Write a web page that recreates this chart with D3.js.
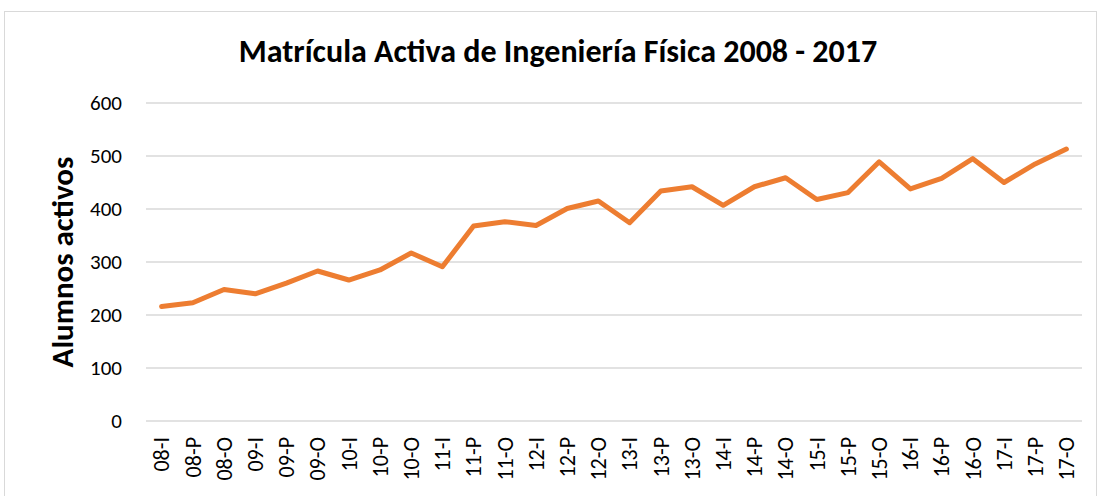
<!DOCTYPE html>
<html>
<head>
<meta charset="utf-8">
<script src="https://cdn.jsdelivr.net/npm/d3@7"></script>
<style>
  body { margin: 0; background: #fff; }
  #vis { width: 1099px; height: 496px; }
  text { font-family: Carlito, Calibri, 'Liberation Sans', sans-serif; fill: #000; }
</style>
</head>
<body>
<div id="vis"></div>
<script>
var width = 1099;
var height = 496;

// data
var periods = ['08-I', '08-P', '08-O', '09-I', '09-P', '09-O', '10-I', '10-P', '10-O',
  '11-I', '11-P', '11-O', '12-I', '12-P', '12-O', '13-I', '13-P', '13-O',
  '14-I', '14-P', '14-O', '15-I', '15-P', '15-O', '16-I', '16-P', '16-O',
  '17-I', '17-P', '17-O'];
var alumnos = [216, 223, 248, 240, 260, 283, 266, 285, 317, 291, 368, 376, 369, 401, 415,
  374, 434, 442, 407, 442, 459, 418, 431, 489, 438, 458, 495, 450, 485, 513];
var yTicks = [0, 100, 200, 300, 400, 500, 600];

var margin = { top: 103, bottom: 75, left: 146, right: 17 };

var svg = d3.select('#vis')
  .append('svg')
  .attr('width', width)
  .attr('height', height);

// chart border
svg.append('rect')
  .attr('x', 4.5)
  .attr('y', 11.5)
  .attr('width', 1092)
  .attr('height', 490)
  .attr('fill', 'none')
  .attr('stroke', '#d9d9d9');

var g = svg.append('g')
  .attr('transform', 'translate(' + margin.left + ',' + margin.top + ')');

var w = width - margin.left - margin.right;
var h = 421 - margin.top;

var x_scale = d3.scaleBand()
  .domain(periods)
  .range([0, w]);

var y_scale = d3.scaleLinear()
  .domain([0, 600])
  .range([h, 0]);

// gridlines
g.selectAll('.grid')
  .data(yTicks)
  .enter()
  .append('line')
  .attr('class', 'grid')
  .attr('x1', 0)
  .attr('x2', w)
  .attr('y1', function(d) { return y_scale(d); })
  .attr('y2', function(d) { return y_scale(d); })
  .attr('stroke', '#d9d9d9')
  .attr('stroke-width', 1.3);

var y_axis = d3.axisLeft(y_scale)
  .tickValues(yTicks)
  .tickSize(0)
  .tickPadding(24);

g.append('g')
  .attr('class', 'y axis')
  .call(y_axis)
  .call(function(s) { s.select('.domain').remove(); })
  .selectAll('text')
  .style('font-family', 'Carlito, Calibri, sans-serif')
  .style('font-size', '21px');

var x_axis = d3.axisBottom(x_scale)
  .tickSize(0)
  .tickPadding(0);

g.append('g')
  .attr('class', 'x axis')
  .attr('transform', 'translate(0,' + h + ')')
  .call(x_axis)
  .call(function(s) { s.select('.domain').remove(); })
  .selectAll('text')
  .style('font-family', 'Carlito, Calibri, sans-serif')
  .style('font-size', '22px')
  .style('text-anchor', 'end')
  .attr('dx', '-16px')
  .attr('dy', '0.35em')
  .attr('y', 0)
  .attr('transform', 'rotate(-90)');

var line = d3.line()
  .x(function(d, i) { return x_scale(periods[i]) + x_scale.bandwidth() / 2; })
  .y(function(d) { return y_scale(d); });

g.append('path')
  .datum(alumnos)
  .attr('d', line)
  .attr('fill', 'none')
  .attr('stroke', '#ed7d31')
  .attr('stroke-width', 5)
  .attr('stroke-linecap', 'round')
  .attr('stroke-linejoin', 'round');

svg.append('text')
  .text('Matrícula Activa de Ingeniería Física 2008 - 2017')
  .attr('x', 558)
  .attr('y', 62)
  .attr('text-anchor', 'middle')
  .style('font-size', '32px')
  .style('font-weight', 'bold');

svg.append('text')
  .text('Alumnos activos')
  .attr('text-anchor', 'middle')
  .attr('transform', 'translate(73,262)rotate(-90)')
  .style('font-size', '31px')
  .style('font-weight', 'bold');
</script>
</body>
</html>
